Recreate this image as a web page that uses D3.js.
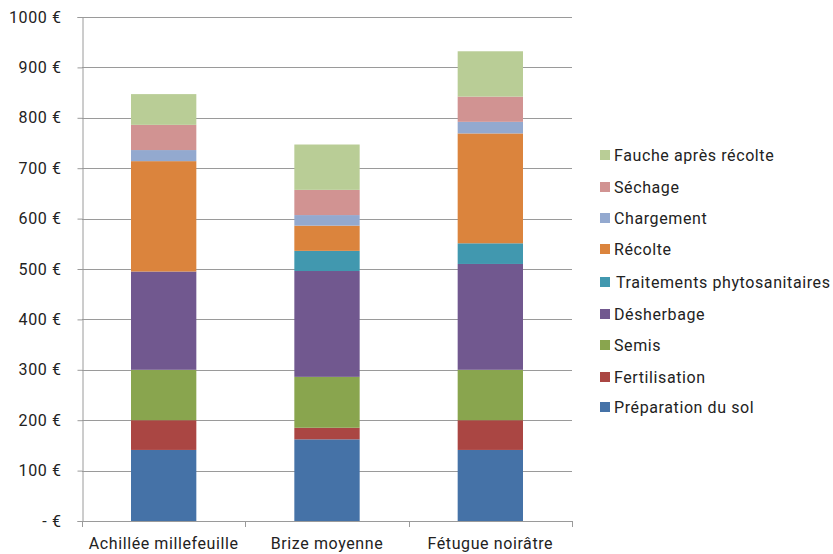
<!DOCTYPE html>
<html>
<head>
<meta charset="utf-8">
<script src="https://cdn.jsdelivr.net/npm/d3@7"></script>
<style>
body { margin: 0; background: #fff; }
text { font-family: Roboto, "Noto Sans", sans-serif; fill: #222; letter-spacing: 0.6px; }
</style>
</head>
<body>
<script>
var categories = ["Achillée millefeuille", "Brize moyenne", "Fétugue noirâtre"];
var seriesNames = ["Préparation du sol", "Fertilisation", "Semis", "Désherbage",
	"Traitements phytosanitaires", "Récolte", "Chargement", "Séchage", "Fauche après récolte"];
var seriesColors = ["#4572A7", "#AA4643", "#89A54E", "#71588F", "#4198AF",
	"#DB843D", "#93A9CF", "#D19392", "#B9CD96"];
// one array per series, values for the three categories
var prepSol = [141, 162, 141];
var fertilisation = [59, 23, 59];
var semis = [100, 101, 100];
var desherbage = [195, 210, 210];
var traitements = [0, 40, 41];
var recolte = [219, 50, 218];
var chargement = [22, 21, 23];
var sechage = [50, 50, 50];
var fauche = [61, 90, 90];
var yTicks = [0, 100, 200, 300, 400, 500, 600, 700, 800, 900, 1000];

var values = [prepSol, fertilisation, semis, desherbage, traitements, recolte, chargement, sechage, fauche];

var width = 833, height = 554;
var plotL = 82, plotR = 572, plotT = 17, plotB = 521;

var svg = d3.select("body").append("svg")
	.attr("width", width)
	.attr("height", height);

var x = d3.scaleBand().domain(categories).range([plotL, plotR])
	.paddingInner(0.6).paddingOuter(0.3);
var y = d3.scaleLinear().domain([0, 1000]).range([plotB, plotT]);

// gridlines
svg.append("g").selectAll("line")
	.data(yTicks.slice(1))
	.enter().append("line")
	.attr("x1", plotL).attr("x2", plotR)
	.attr("y1", function(d){ return Math.round(y(d)) + 0.5; })
	.attr("y2", function(d){ return Math.round(y(d)) + 0.5; })
	.attr("stroke", "#9a9a9a").attr("stroke-width", 1);

// stacked data
var table = categories.map(function(c, i){
	var row = {cat: c};
	seriesNames.forEach(function(s, j){ row[s] = values[j][i]; });
	return row;
});
var stacked = d3.stack().keys(seriesNames)(table);

svg.append("g").selectAll("g")
	.data(stacked)
	.enter().append("g")
	.attr("fill", function(d, i){ return seriesColors[i]; })
	.selectAll("rect")
	.data(function(d){ return d; })
	.enter().append("rect")
	.attr("x", function(d){ return x(d.data.cat); })
	.attr("width", x.bandwidth())
	.attr("y", function(d){ return y(d[1]); })
	.attr("height", function(d){ return y(d[0]) - y(d[1]); });

// y axis
var yAxis = d3.axisLeft(y).tickValues(yTicks).tickSize(5).tickPadding(16)
	.tickFormat(function(d){ return d === 0 ? "-  €" : d + " €"; });
var gy = svg.append("g").attr("transform", "translate(" + (plotL + 0.5) + ",0)").call(yAxis);
gy.selectAll("line").attr("stroke", "#9a9a9a");
gy.select(".domain").attr("stroke", "#9a9a9a");
gy.selectAll("text").attr("font-size", 16).attr("font-family", "Roboto, sans-serif").attr("fill", "#222");

// x axis
var xEdges = [0, 1, 2, 3].map(function(i){ return plotL + i * x.step(); });
svg.append("line").attr("x1", plotL).attr("x2", plotR)
	.attr("y1", plotB + 0.5).attr("y2", plotB + 0.5).attr("stroke", "#9a9a9a");
svg.append("g").selectAll("line").data(xEdges).enter().append("line")
	.attr("x1", function(d){ return Math.round(d) + 0.5; })
	.attr("x2", function(d){ return Math.round(d) + 0.5; })
	.attr("y1", plotB).attr("y2", plotB + 6)
	.attr("stroke", "#9a9a9a");
svg.append("g").selectAll("text").data(categories).enter().append("text")
	.attr("x", function(d){ return x(d) + x.bandwidth() / 2; })
	.attr("y", 549)
	.attr("text-anchor", "middle")
	.attr("font-size", 16)
	.text(function(d){ return d; });

// legend (top to bottom = last series first)
var legendY = [155, 187, 218, 249, 282, 314, 345, 377, 407];
var legend = svg.append("g").selectAll("g")
	.data(seriesNames.slice().reverse())
	.enter().append("g")
	.attr("transform", function(d, i){ return "translate(600," + legendY[i] + ")"; });
legend.append("rect")
	.attr("x", 0).attr("y", -5).attr("width", 10).attr("height", 10)
	.attr("fill", function(d){ return seriesColors[seriesNames.indexOf(d)]; });
legend.append("text")
	.attr("x", function(d){ return d === "Traitements phytosanitaires" ? 16 : 14; })
	.attr("y", 6)
	.attr("font-size", 16)
	.text(function(d){ return d; });
</script>
</body>
</html>
